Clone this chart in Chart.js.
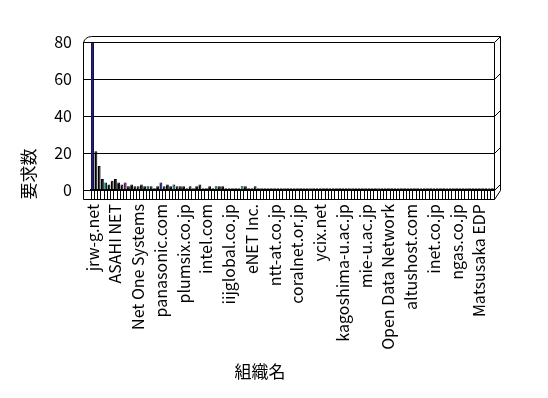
<!DOCTYPE html>
<html>
<head>
<meta charset="utf-8">
<script src="https://cdn.jsdelivr.net/npm/chart.js@4"></script>
<style>
  html, body { margin: 0; padding: 0; background: #fff; }
  canvas { display: block; }
</style>
</head>
<body>
<canvas id="orgChart" width="548" height="398"></canvas>
<script>
// 組織別の要求数
const requestCounts = [
  80, 21, 13, 6, 4, 3, 5, 6, 4, 3, 4, 2, 3, 2, 2, 3, 2, 2, 2, 1,
  2, 4, 2, 3, 2, 3, 2, 2, 2, 1, 2, 1, 2, 3, 1, 1, 2, 1, 2, 2,
  2, 1, 1, 1, 1, 1, 2, 2, 1, 1, 2, 1, 1, 1, 1, 1, 1, 1, 1, 1,
  1, 1, 1, 1, 1, 1, 1, 1, 1, 1, 1, 1, 1, 1, 1, 1, 1, 1, 1, 1,
  1, 1, 1, 1, 1, 1, 1, 1, 1, 1, 1, 1, 1, 1, 1, 1, 1, 1, 1, 1,
  1, 1, 1, 1, 1, 1, 1, 1, 1, 1, 1, 1, 1, 1, 1, 1, 1, 1, 1, 1,
  1, 1, 1, 1
];

// 軸に表示される組織名（7件おき）
const shownNames = [
  'jrw-g.net', 'ASAHI NET', 'Net One Systems', 'panasonic.com', 'plumsix.co.jp',
  'intel.com', 'iijglobal.co.jp', 'eNET Inc.', 'ntt-at.co.jp', 'coralnet.or.jp',
  'ycix.net', 'kagoshima-u.ac.jp', 'mie-u.ac.jp', 'Open Data Network', 'altushost.com',
  'inet.co.jp', 'ngas.co.jp', 'Matsusaka EDP'
];
const labelStep = 7;

const yTicks = [0, 20, 40, 60, 80];

const palette = ['#1c1c96', '#000000', '#000000', '#000000', '#008080', '#000000', '#000000',
  '#000000', '#000000', '#000000', '#660066', '#000000', '#000000', '#000000',
  '#000000', '#000000', '#000000', '#006666', '#000000', '#000000', '#000000'];

const categories = requestCounts.map((v, i) =>
  i % labelStep === 0 ? (shownNames[i / labelStep] || '') : '');

const FONT = '"Noto Sans CJK JP", "Noto Sans", sans-serif';

// 3D風の枠線
const frame3d = {
  id: 'frame3d',
  afterDraw(chart) {
    const { ctx, chartArea: a, scales } = chart;
    const y = scales.y;
    const d = 6;
    const frontLeft = a.left - 8;
    const floorY = a.bottom + 9;
    ctx.save();
    ctx.strokeStyle = '#000';
    ctx.lineWidth = 1;
    ctx.beginPath();
    // 左の前面の縦線
    ctx.moveTo(frontLeft + 0.5, a.top + 0.5);
    ctx.lineTo(frontLeft + 0.5, floorY + 0.5);
    // 床の前面
    ctx.lineTo(a.right + 0.5, floorY + 0.5);
    ctx.lineTo(a.right + d + 0.5, a.bottom + 0.5);
    // 右の前面
    ctx.moveTo(a.right + 0.5, a.top + 0.5);
    ctx.lineTo(a.right + 0.5, floorY + 0.5);
    // 奥の上辺
    ctx.moveTo(frontLeft + 0.5, a.top + 0.5);
    ctx.quadraticCurveTo(frontLeft + 2, a.top - d + 1, a.left + 0.5, a.top - d + 0.5);
    ctx.lineTo(a.right + d + 0.5, a.top - d + 0.5);
    ctx.lineTo(a.right + d + 0.5, a.bottom + 0.5);
    // 目盛線の斜め
    yTicks.forEach(t => {
      const py = Math.round(y.getPixelForValue(t));
      ctx.moveTo(a.right + 0.5, py + 0.5);
      ctx.lineTo(a.right + d + 0.5, py - d + 0.5);
    });
    ctx.stroke();

    // 軸タイトル
    ctx.fillStyle = '#000';
    ctx.font = '17px ' + FONT;
    ctx.textAlign = 'center';
    ctx.textBaseline = 'middle';
    ctx.fillText('組織名', 260, 372);
    ctx.translate(29, 174);
    ctx.rotate(-Math.PI / 2);
    ctx.fillText('要求数', 0, 0);
    ctx.restore();
  }
};

new Chart(document.getElementById('orgChart'), {
  type: 'bar',
  data: {
    labels: categories,
    datasets: [{
      label: '要求数',
      data: requestCounts,
      backgroundColor: requestCounts.map((v, i) => palette[i % palette.length]),
      borderColor: '#000',
      borderWidth: { top: 1, right: 1, left: 0, bottom: 0 },
      categoryPercentage: 1,
      barPercentage: 0.9
    }]
  },
  options: {
    responsive: false,
    animation: false,
    layout: { padding: { top: 42, right: 54, bottom: 0, left: 0 } },
    plugins: {
      legend: { display: false },
      tooltip: { enabled: false }
    },
    scales: {
      x: {
        afterFit: s => { s.height = 208; },
        grid: {
          display: true,
          drawOnChartArea: false,
          drawTicks: true,
          tickLength: 9,
          color: '#000',
          offset: true
        },
        border: { display: true, color: '#000', width: 2 },
        ticks: {
          autoSkip: false,
          minRotation: 90,
          maxRotation: 90,
          padding: 5,
          color: '#000',
          font: { family: FONT, size: 16 }
        }
      },
      y: {
        min: 0,
        max: 80,
        afterFit: s => { s.width = 91; },
        afterBuildTicks: s => { s.ticks = yTicks.map(v => ({ value: v })); },
        grid: {
          color: '#000',
          drawTicks: true,
          tickLength: 8
        },
        border: { display: true, color: '#000' },
        ticks: {
          padding: 11,
          color: '#000',
          font: { family: FONT, size: 16 }
        }
      }
    }
  },
  plugins: [frame3d]
});
</script>
</body>
</html>
